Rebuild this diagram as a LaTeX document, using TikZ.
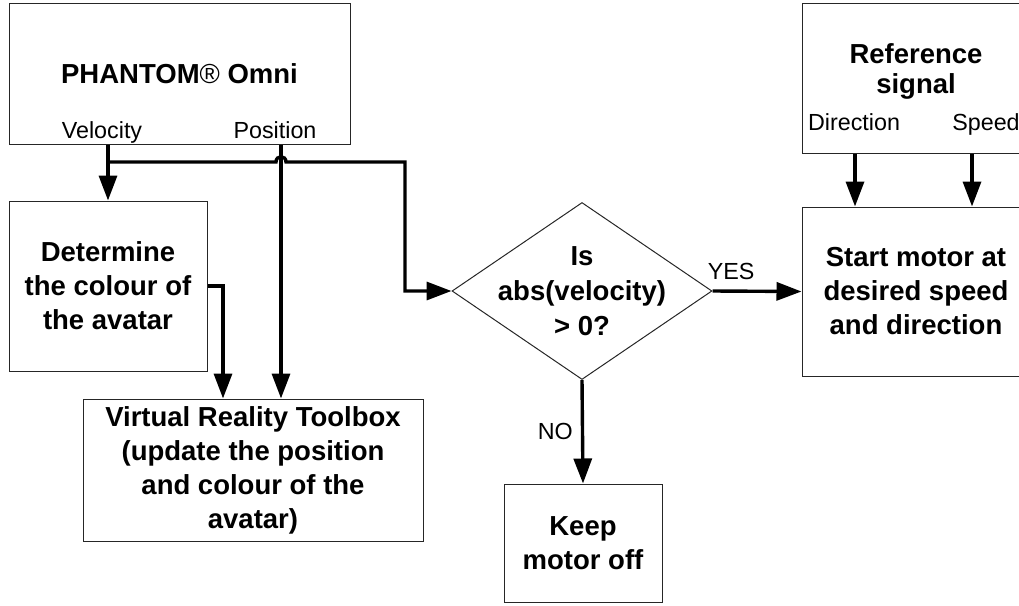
\documentclass[tikz,border=0pt]{standalone}
\usepackage{fontspec}
\setmainfont{Liberation Sans}
\usetikzlibrary{arrows.meta,shapes.geometric}
\tikzset{
  block/.style={draw=black!85, line width=1pt, align=center, inner sep=0pt,
    font=\bfseries\fontsize{27.5}{34}\selectfont},
  tag/.style={font=\fontsize{23.3}{28}\selectfont, inner sep=0pt},
  flow/.style={line width=3.4pt, -{Triangle[length=25pt,width=18pt]}},
}
\begin{document}
\begin{tikzpicture}[x=1pt, y=-1pt]
\useasboundingbox (0,0) rectangle (1019,605);

\node[block, minimum width=341pt, minimum height=141pt] (phantom) at (179.5,73.5) {PHANTOM{\mdseries®} Omni};
\node[tag, anchor=base] (vel) at (102,138) {Velocity};
\node[tag, anchor=base] (pos) at (275,138) {Position};

\node[block, minimum width=228pt, minimum height=150pt] (refsig) at (916,78) {};
\node[block, draw=none, anchor=base, font=\bfseries\fontsize{27.5}{30}\selectfont] (reftitle) at (916,93) {Reference\\signal};
\node[tag, anchor=base] (dir) at (854,130) {Direction};
\node[tag, anchor=base] (spd) at (986,130) {Speed};

\node[block, minimum width=198pt, minimum height=170pt] (det) at (108,286) {Determine\\the colour of\\the avatar};
\node[block, minimum width=340pt, minimum height=142pt] (vrt) at (253,470) {Virtual Reality Toolbox\\(update the position\\and colour of the\\avatar)};
\node[block, diamond, minimum width=260pt, minimum height=177pt, inner sep=-30pt,
  font=\bfseries\fontsize{27.5}{35}\selectfont] (decide) at (582,291) {Is\\abs(velocity)\\> 0?};
\node[block, minimum width=228pt, minimum height=169pt] (start) at (916,291.5) {Start motor at\\desired speed\\and direction};
\node[block, minimum width=158pt, minimum height=118pt] (off) at (583,543) {Keep\\motor off};

\coordinate (vsplit) at (det.north |- 0,162);

\draw[flow](phantom.south -| det.north)--(det.north);
\draw[flow](vsplit)--(276,162) .. controls (276,155) and (286,155) .. (286,162)--(405,162) |- (decide.west);
\draw[flow](phantom.south -| 281,0)--(vrt.north -| 281,0);
\draw[flow](det.east) -| (vrt.north -| 223,0);
\draw[flow](decide.east)--(start.west) node[tag, pos=0.21, above=10pt] (yes) {YES};
\draw[flow](decide.south)--(off.north) node[tag, midway, left=8pt] (no) {NO};
\foreach \x in {855,972}
{
    \draw[flow](refsig.south -| \x,0)--(start.north -| \x,0);
}

\end{tikzpicture}
\end{document}
